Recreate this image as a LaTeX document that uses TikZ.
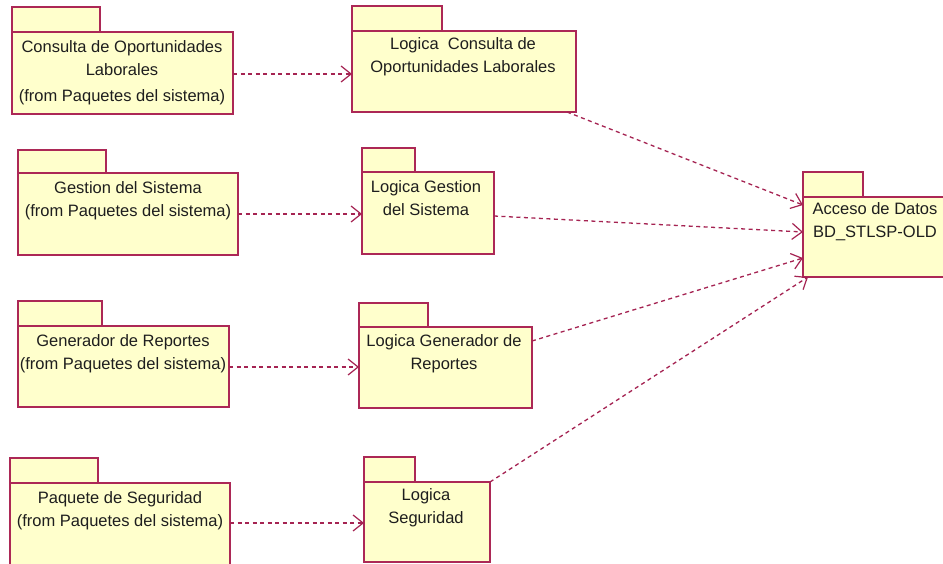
\documentclass[tikz,border=0pt]{standalone}
\usepackage{fontspec}
\setmainfont{Liberation Sans}
\usetikzlibrary{arrows.meta}
\definecolor{pkline}{RGB}{172,40,86}
\definecolor{pkfill}{RGB}{255,255,204}
\definecolor{depc}{RGB}{165,35,82}
\definecolor{txtc}{RGB}{30,30,30}
\tikzset{
  pbox/.style={draw=pkline, fill=pkfill, line width=1.4pt, anchor=north west, inner sep=0pt, outer sep=0pt, rectangle},
  plabel/.style={align=center, text=txtc, font=\fontsize{16.5}{23}\selectfont, inner sep=0pt},
  depline/.style={draw=depc, line width=1.3pt, dash pattern=on 4pt off 3.5pt, -{Straight Barb[length=10pt,width=16pt,line width=1.2pt]}}
}
\begin{document}
\begin{tikzpicture}[x=1pt,y=-1pt]
\clip (0,0) rectangle (943,564);
\fill[white] (0,0) rectangle (943,564);
% Consulta de Oportunidades Laborales
\node[pbox, minimum width=88, minimum height=25] (t1) at (12,7) {};
\node[pbox, minimum width=221, minimum height=82] (b1) at (12,32) {};
\node[plabel] (x1) at (122,73) {Consulta de Oportunidades\\Laborales\\[3pt](from Paquetes del sistema)};
% Logica Consulta
\node[pbox, minimum width=90, minimum height=25] (t2) at (352,6) {};
\node[pbox, minimum width=224, minimum height=81] (l1) at (352,31) {};
\node[plabel] (x2) at (463,57) {Logica\ \ Consulta de\\Oportunidades Laborales};
% Gestion del Sistema
\node[pbox, minimum width=88, minimum height=23] (t3) at (18,150) {};
\node[pbox, minimum width=220, minimum height=82] (b2) at (18,173) {};
\node[plabel] (x3) at (128,201) {Gestion del Sistema\\(from Paquetes del sistema)};
% Logica Gestion
\node[pbox, minimum width=53, minimum height=24] (t4) at (362,148) {};
\node[pbox, minimum width=132, minimum height=82] (l2) at (362,172) {};
\node[plabel] (x4) at (426,198) {Logica Gestion\\del Sistema};
% Generador de Reportes
\node[pbox, minimum width=84, minimum height=25] (t5) at (18,301) {};
\node[pbox, minimum width=211, minimum height=81] (b3) at (18,326) {};
\node[plabel] (x5) at (123,354) {Generador de Reportes\\(from Paquetes del sistema)};
% Logica Generador
\node[pbox, minimum width=69, minimum height=24] (t6) at (359,303) {};
\node[pbox, minimum width=173, minimum height=81] (l3) at (359,327) {};
\node[plabel] (x6) at (444,354) {Logica Generador de\\Reportes};
% Paquete de Seguridad
\node[pbox, minimum width=88, minimum height=25] (t7) at (10,458) {};
\node[pbox, minimum width=220, minimum height=84] (b4) at (10,483) {};
\node[plabel] (x7) at (120,511) {Paquete de Seguridad\\(from Paquetes del sistema)};
% Logica Seguridad
\node[pbox, minimum width=51, minimum height=25] (t8) at (364,457) {};
\node[pbox, minimum width=126, minimum height=80] (l4) at (364,482) {};
\node[plabel] (x8) at (426,508) {Logica\\Seguridad};
% Acceso de Datos
\node[pbox, minimum width=60, minimum height=25] (t9) at (803,172) {};
\node[pbox, minimum width=160, minimum height=80] (acc) at (803,197) {};
\node[plabel] (x9) at (875,222) {Acceso de Datos\\BD\_STLSP-OLD};
% dependencies
\draw[depline] ([yshift=-1pt]b1.east) -- ([yshift=-1pt]l1.west |- b1.east);
\draw[depline] (b2.east) -- (l2.west |- b2.east);
\draw[depline] ([yshift=-0.5pt]b3.east) -- ([yshift=-0.5pt]l3.west |- b3.east);
\draw[depline] ([yshift=2pt]b4.east) -- ([yshift=2pt]l4.west |- b4.east);
\draw[depline] ([xshift=-9pt]l1.south east) -- ([yshift=-8pt]acc.north west);
\draw[depline] ([yshift=-3pt]l2.east) -- ([yshift=5pt]acc.west);
\draw[depline] ([yshift=-14pt]l3.north east) -- ([yshift=-21pt]acc.west);
\draw[depline] (l4.north east) -- ([xshift=5pt]acc.south west);
\end{tikzpicture}
\end{document}
